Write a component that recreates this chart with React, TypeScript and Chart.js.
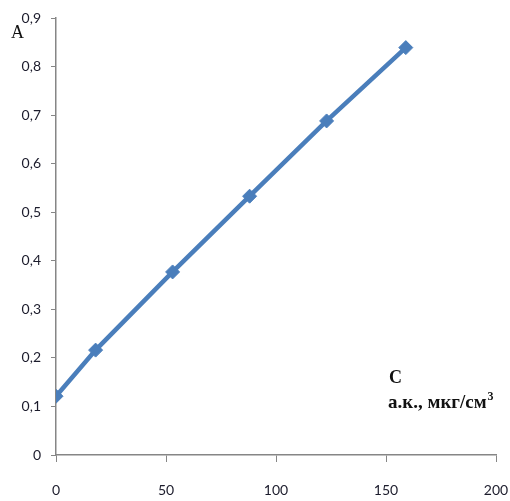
import React, { useEffect, useRef } from "react";
import { Chart, registerables } from "chart.js";

Chart.register(...registerables);

const concentrations = [0, 18, 53, 88, 123, 159];
const absorbance = [0.121, 0.216, 0.377, 0.533, 0.688, 0.839];
const xTicks = [0, 50, 100, 150, 200];
const yTicks = [0, 0.1, 0.2, 0.3, 0.4, 0.5, 0.6, 0.7, 0.8, 0.9];
const yAxisLabel = "A";
const xAxisLabel1 = "C";
const xAxisLabel2 = "а.к., мкг/см";
const xAxisLabelSup = "3";

const lineColor = "#4A7EBB";
const axisColor = "#868686";
const tickColor = "#1c1c2c";

const labelsPlugin = {
  id: "axisLabels",
  afterDraw(chart: any) {
    const ctx = chart.ctx;
    ctx.save();
    ctx.fillStyle = "#111";
    ctx.textBaseline = "alphabetic";
    ctx.textAlign = "left";
    ctx.font = "18px 'Liberation Serif'";
    ctx.fillText(yAxisLabel, 11, 38);
    ctx.font = "bold 18px 'Liberation Serif'";
    ctx.fillText(xAxisLabel1, 389, 383);
    ctx.font = "bold 19px 'Liberation Serif'";
    ctx.fillText(xAxisLabel2, 388, 408);
    const w = ctx.measureText(xAxisLabel2).width;
    ctx.font = "bold 12px 'Liberation Serif'";
    ctx.fillText(xAxisLabelSup, 388 + w + 1, 400);
    ctx.restore();
  },
};

export default function App() {
  const ref = useRef<HTMLCanvasElement | null>(null);
  useEffect(() => {
    const canvas = ref.current;
    if (!canvas) return;
    const chart = new Chart(canvas, {
      type: "scatter",
      data: {
        datasets: [
          {
            data: concentrations.map((x, i) => ({ x, y: absorbance[i] })),
            showLine: true,
            borderColor: lineColor,
            backgroundColor: lineColor,
            borderWidth: 4.5,
            pointStyle: "rectRot",
            pointRadius: 7,
            pointBorderWidth: 1,
            pointBorderColor: lineColor,
            pointBackgroundColor: lineColor,
          },
        ],
      },
      options: {
        responsive: false,
        animation: false,
        layout: { padding: { left: 0, right: 14, top: 18, bottom: 0 } },
        plugins: { legend: { display: false }, tooltip: { enabled: false } },
        scales: {
          x: {
            type: "linear",
            min: 0,
            max: 200,
            afterBuildTicks: (s: any) => {
              s.ticks = xTicks.map((v) => ({ value: v }));
            },
            afterFit: (s: any) => {
              s.height = 46;
              s.paddingLeft = 0;
              s.paddingRight = 0;
            },
            grid: {
              drawOnChartArea: false,
              drawTicks: true,
              tickLength: 7,
              color: axisColor,
            },
            border: { display: true, color: axisColor, width: 1.5 },
            ticks: {
              padding: 20,
              color: tickColor,
              font: { family: "Lato", size: 14 },
              maxRotation: 0,
              callback: (v: any) => String(v),
            },
          },
          y: {
            type: "linear",
            min: 0,
            max: 0.9,
            afterBuildTicks: (s: any) => {
              s.ticks = yTicks.map((v) => ({ value: v }));
            },
            afterFit: (s: any) => {
              s.width = 56;
              s.paddingTop = 0;
              s.paddingBottom = 0;
            },
            grid: {
              drawOnChartArea: false,
              drawTicks: true,
              tickLength: 5,
              color: axisColor,
            },
            border: { display: true, color: axisColor, width: 1.5 },
            ticks: {
              padding: 10,
              color: tickColor,
              font: { family: "Lato", size: 14 },
              callback: (v: any) =>
                Number(v) === 0 ? "0" : Number(v).toFixed(1).replace(".", ","),
            },
          },
        },
      },
      plugins: [labelsPlugin],
    } as any);
    return () => chart.destroy();
  }, []);
  return (
    <div
      style={{
        position: "absolute",
        left: 0,
        top: 0,
        width: 510,
        height: 501,
        background: "#fff",
      }}
    >
      <canvas ref={ref} width={510} height={501} style={{ display: "block" }} />
    </div>
  );
}
